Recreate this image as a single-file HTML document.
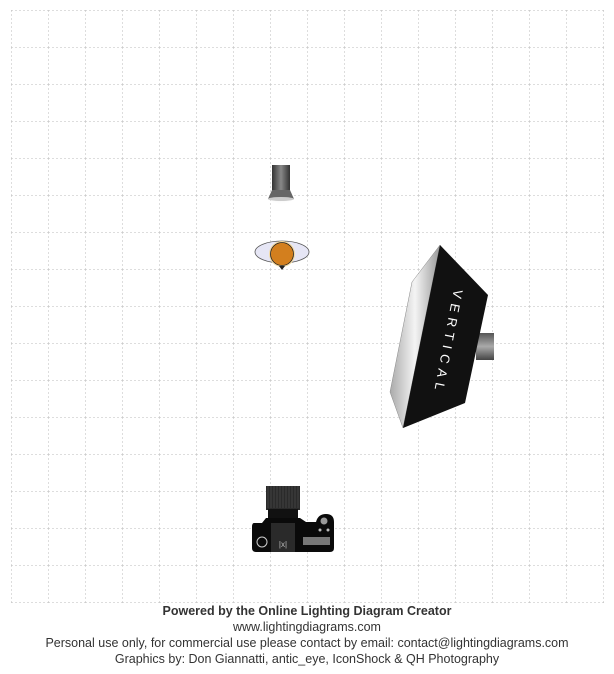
<!DOCTYPE html>
<html><head><style>
body{margin:0;background:#fff;width:614px;height:674px;overflow:hidden;font-family:"Liberation Sans",sans-serif}
.t{position:absolute;left:0;width:614px;text-align:center;font-size:12.5px;color:#333}
</style></head><body>
<svg width="614" height="674" style="position:absolute;left:0;top:0">
<defs>
<pattern id="g" x="11" y="10" width="37" height="37" patternUnits="userSpaceOnUse">
<path d="M0 0V37M0 0H37" stroke="#bbb" stroke-width="1" stroke-dasharray="2,2" fill="none"/>
</pattern>
<linearGradient id="cyl" x1="0" x2="1"><stop offset="0" stop-color="#333"/><stop offset="0.5" stop-color="#888"/><stop offset="1" stop-color="#333"/></linearGradient>
<linearGradient id="side" x1="0" x2="1"><stop offset="0" stop-color="#aaa"/><stop offset="0.5" stop-color="#f4f4f4"/><stop offset="1" stop-color="#999"/></linearGradient>
<linearGradient id="knob" x1="0" y1="0" x2="0" y2="1"><stop offset="0" stop-color="#555"/><stop offset="0.5" stop-color="#aaa"/><stop offset="1" stop-color="#444"/></linearGradient>
<radialGradient id="glow" cx="0.5" cy="0"><stop offset="0" stop-color="#ddd"/><stop offset="1" stop-color="#fff" stop-opacity="0"/></radialGradient>
</defs>
<rect x="11" y="10" width="593" height="593" fill="url(#g)"/>
<ellipse cx="281" cy="205" rx="18" ry="10" fill="url(#glow)"/>
<rect x="272" y="165" width="18" height="27" fill="url(#cyl)"/>
<path d="M272 190 L290 190 L294 199 L268 199 Z" fill="#666"/>
<ellipse cx="281" cy="199" rx="13" ry="2" fill="#ccc"/>
<ellipse cx="282" cy="252" rx="27" ry="11" fill="#e6e6f5" stroke="#555" stroke-width="0.8"/>
<circle cx="282" cy="254" r="13" fill="#f5dca5"/>
<circle cx="282" cy="254" r="11.5" fill="#d37f1e" stroke="#222" stroke-width="0.8"/>
<path d="M279 266 L282 270 L285 266 Z" fill="#222"/>
<rect x="476" y="333" width="18" height="27" fill="url(#knob)"/>
<polygon points="440,245 412,282 390,392 403,428" fill="url(#side)" stroke="#888" stroke-width="0.5"/>
<polygon points="440,245 488,295 465,403 403,428" fill="#111"/>
<text transform="translate(454,289) rotate(101)" fill="#fff" font-size="13" letter-spacing="5.5" font-family="Liberation Sans,sans-serif">VERTICAL</text>
<rect x="266" y="486" width="34" height="24" fill="#2a2a2a"/>
<g stroke="#555" stroke-width="0.6"><path d="M268 486V508M271 486V508M274 486V508M277 486V508M280 486V508M283 486V508M286 486V508M289 486V508M292 486V508M295 486V508M298 486V508"/></g>
<rect x="268" y="509" width="30" height="10" fill="#111"/>
<path d="M254 523 Q252 523 252 527 V548 Q252 552 256 552 H330 Q334 552 334 548 V522 Q334 514 326 514 Q318 514 316 522 L306 522 L300 518 H266 L262 523 Z" fill="#0a0a0a"/>
<rect x="271" y="523" width="24" height="29" fill="#2a2a2a"/>
<text x="283" y="547" fill="#bbb" font-size="8" text-anchor="middle" font-family="Liberation Sans,sans-serif">|x|</text>
<circle cx="262" cy="542" r="5" fill="none" stroke="#ccc" stroke-width="1"/>
<rect x="303" y="537" width="27" height="8" fill="#777"/>
<circle cx="324" cy="521" r="3.5" fill="#999"/>
<circle cx="320" cy="530" r="1.5" fill="#bbb"/><circle cx="328" cy="530" r="1.5" fill="#bbb"/>
</svg>
<div class="t" style="top:604px;font-weight:bold">Powered by the Online Lighting Diagram Creator</div>
<div class="t" style="top:620px">www.lightingdiagrams.com</div>
<div class="t" style="top:636px">Personal use only, for commercial use please contact by email: contact@lightingdiagrams.com</div>
<div class="t" style="top:652px">Graphics by: Don Giannatti, antic_eye, IconShock &amp; QH Photography</div>
</body></html>
